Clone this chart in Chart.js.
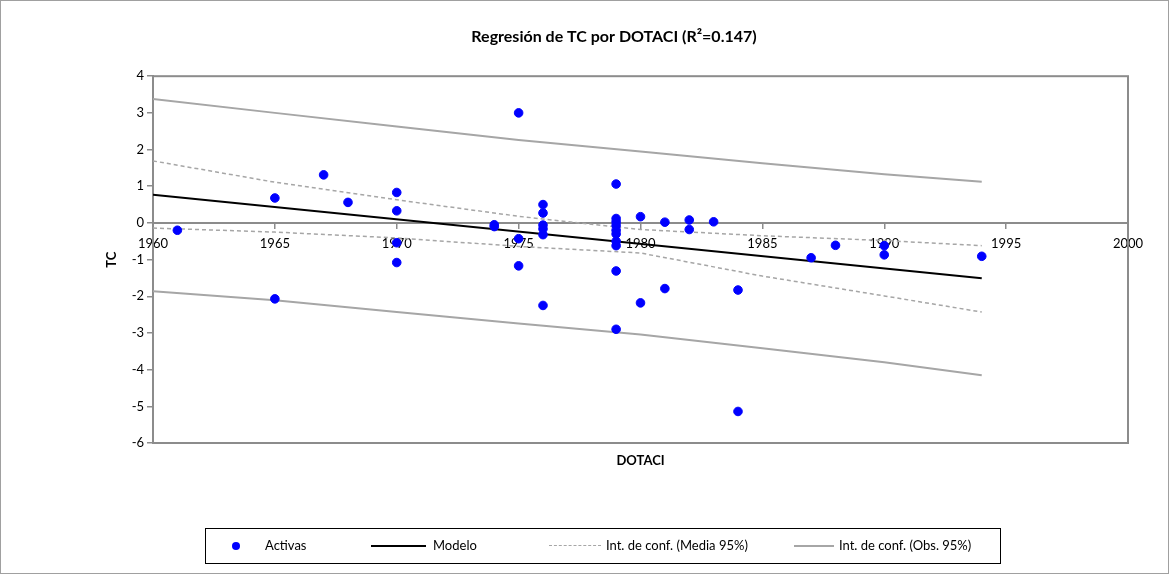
<!DOCTYPE html>
<html>
<head>
<meta charset="utf-8">
<script src="https://cdn.jsdelivr.net/npm/chart.js@4.4.1/dist/chart.umd.min.js"></script>
<style>
  body { margin: 0; background: #fff; font-family: Lato, "Liberation Sans", sans-serif; }
  #wrap { position: relative; width: 1169px; height: 574px; }
  #wrap::after { content: ""; position: absolute; left: 0; top: 0; right: 0; bottom: 0; border: 1px solid #a0a0a0; pointer-events: none; }
  #legend { position: absolute; left: 205px; top: 528px; width: 794px; height: 34px; border: 1px solid #000; font-size: 13px; color: #000; }
  #legend span { position: absolute; }
  .txt { top: 8px; }
</style>
</head>
<body>
<div id="wrap">
  <canvas id="chart" width="1169" height="574"></canvas>
  <div id="legend">
    <span style="left:26px;top:13px;width:8px;height:8px;border-radius:50%;background:#0000ff"></span>
    <span class="txt" style="left:59px">Activas</span>
    <span style="left:165px;top:16px;width:55px;border-top:2px solid #000"></span>
    <span class="txt" style="left:227px">Modelo</span>
    <span style="left:343px;top:16px;width:52px;border-top:1.5px dashed #a6a6a6"></span>
    <span class="txt" style="left:400px">Int. de conf. (Media 95%)</span>
    <span style="left:588px;top:16px;width:40px;border-top:2px solid #a6a6a6"></span>
    <span class="txt" style="left:633px">Int. de conf. (Obs. 95%)</span>
  </div>
</div>
<script>
// observaciones (DOTACI, TC)
const activasX = [1961, 1965, 1965, 1967, 1968, 1970, 1970, 1970, 1970, 1974, 1974,
  1975, 1975, 1975, 1976, 1976, 1976, 1976, 1976, 1976,
  1979, 1979, 1979, 1979, 1979, 1979, 1979, 1979, 1979, 1979,
  1980, 1980, 1981, 1981, 1982, 1982, 1983, 1984, 1984, 1987, 1988, 1990, 1990, 1994];
const activasY = [-0.2, 0.68, -2.07, 1.31, 0.56, 0.83, 0.33, -0.54, -1.08, -0.05, -0.1,
  3.0, -0.43, -1.17, 0.5, 0.27, -0.06, -0.16, -0.32, -2.25,
  1.06, 0.12, 0.03, -0.07, -0.2, -0.3, -0.5, -0.62, -1.31, -2.9,
  0.17, -2.18, 0.02, -1.79, 0.08, -0.18, 0.03, -1.83, -5.14, -0.95, -0.61, -0.62, -0.87, -0.91];

const modeloX = [1960, 1994];
const modeloY = [0.77, -1.51];

const bandaX = [1960, 1965, 1970, 1975, 1980, 1985, 1990, 1994];
const mediaSup = [1.69, 1.11, 0.63, 0.18, -0.18, -0.35, -0.48, -0.62];
const mediaInf = [-0.14, -0.25, -0.41, -0.64, -0.82, -1.45, -1.99, -2.43];
const obsSup = [3.38, 3.0, 2.63, 2.26, 1.95, 1.63, 1.33, 1.12];
const obsInf = [-1.86, -2.11, -2.43, -2.74, -3.04, -3.42, -3.80, -4.15];

const pares = (xs, ys) => xs.map((x, i) => ({ x: x, y: ys[i] }));
const gris = '#8c8c8c';
const fuente = 'Lato, "Liberation Sans", sans-serif';

// marco del area de trazado y titulo del eje X
const marco = {
  id: 'marco',
  beforeDatasetsDraw(chart) {
    const a = chart.chartArea;
    const ctx = chart.ctx;
    ctx.save();
    ctx.strokeStyle = gris;
    ctx.lineWidth = 2;
    ctx.strokeRect(a.left, a.top, a.right - a.left, a.bottom - a.top);
    ctx.restore();
  },
  afterDraw(chart) {
    const a = chart.chartArea;
    const ctx = chart.ctx;
    ctx.save();
    ctx.font = 'bold 13px ' + fuente;
    ctx.fillStyle = '#000';
    ctx.textAlign = 'center';
    ctx.textBaseline = 'middle';
    ctx.fillText('DOTACI', (a.left + a.right) / 2, 461);
    ctx.restore();
  }
};

Chart.defaults.font.family = fuente;
Chart.defaults.font.size = 13;
Chart.defaults.color = '#000';

const ctx = document.getElementById('chart').getContext('2d');
new Chart(ctx, {
  type: 'scatter',
  data: {
    datasets: [
      {
        label: 'Activas',
        data: pares(activasX, activasY),
        backgroundColor: '#0000ff',
        borderColor: '#0000ff',
        pointRadius: 4.3,
        pointHoverRadius: 4.3
      },
      {
        label: 'Modelo',
        type: 'line',
        data: pares(modeloX, modeloY),
        borderColor: '#000',
        borderWidth: 2,
        pointRadius: 0,
        fill: false
      },
      {
        label: 'Int. de conf. (Media 95%)',
        type: 'line',
        data: pares(bandaX, mediaSup),
        borderColor: '#a6a6a6',
        borderWidth: 1.5,
        borderDash: [4, 3],
        pointRadius: 0,
        fill: false
      },
      {
        label: 'Int. de conf. (Media 95%) inf',
        type: 'line',
        data: pares(bandaX, mediaInf),
        borderColor: '#a6a6a6',
        borderWidth: 1.5,
        borderDash: [4, 3],
        pointRadius: 0,
        fill: false
      },
      {
        label: 'Int. de conf. (Obs. 95%)',
        type: 'line',
        data: pares(bandaX, obsSup),
        borderColor: '#a6a6a6',
        borderWidth: 2,
        pointRadius: 0,
        fill: false
      },
      {
        label: 'Int. de conf. (Obs. 95%) inf',
        type: 'line',
        data: pares(bandaX, obsInf),
        borderColor: '#a6a6a6',
        borderWidth: 2,
        pointRadius: 0,
        fill: false
      }
    ]
  },
  options: {
    responsive: false,
    animation: false,
    devicePixelRatio: 1,
    layout: { padding: { left: 100, right: 41, bottom: 131, top: 0 } },
    plugins: {
      legend: { display: false },
      tooltip: { enabled: false },
      title: {
        display: true,
        text: 'Regresión de TC por DOTACI (R²=0.147)',
        font: { size: 16, weight: 'bold' },
        color: '#000',
        padding: { top: 27, bottom: 30 }
      }
    },
    scales: {
      x: {
        type: 'linear',
        position: { y: 0 },
        min: 1960,
        max: 2000,
        ticks: { stepSize: 5, padding: 8, callback: (v) => String(v) },
        grid: { drawOnChartArea: false, drawTicks: true, tickLength: 5, color: gris, lineWidth: 1.5 },
        border: { display: true, color: gris, width: 2 }
      },
      y: {
        min: -6,
        max: 4,
        ticks: { stepSize: 1, padding: 3 },
        grid: { drawOnChartArea: false, drawTicks: true, tickLength: 6, color: gris, lineWidth: 1.5 },
        border: { display: true, color: gris, width: 2 },
        title: { display: true, text: 'TC', font: { size: 13, weight: 'bold' }, padding: { top: 4, bottom: 0 } },
        afterFit: (s) => { s.width = 53; }
      }
    }
  },
  plugins: [marco]
});
</script>
</body>
</html>
